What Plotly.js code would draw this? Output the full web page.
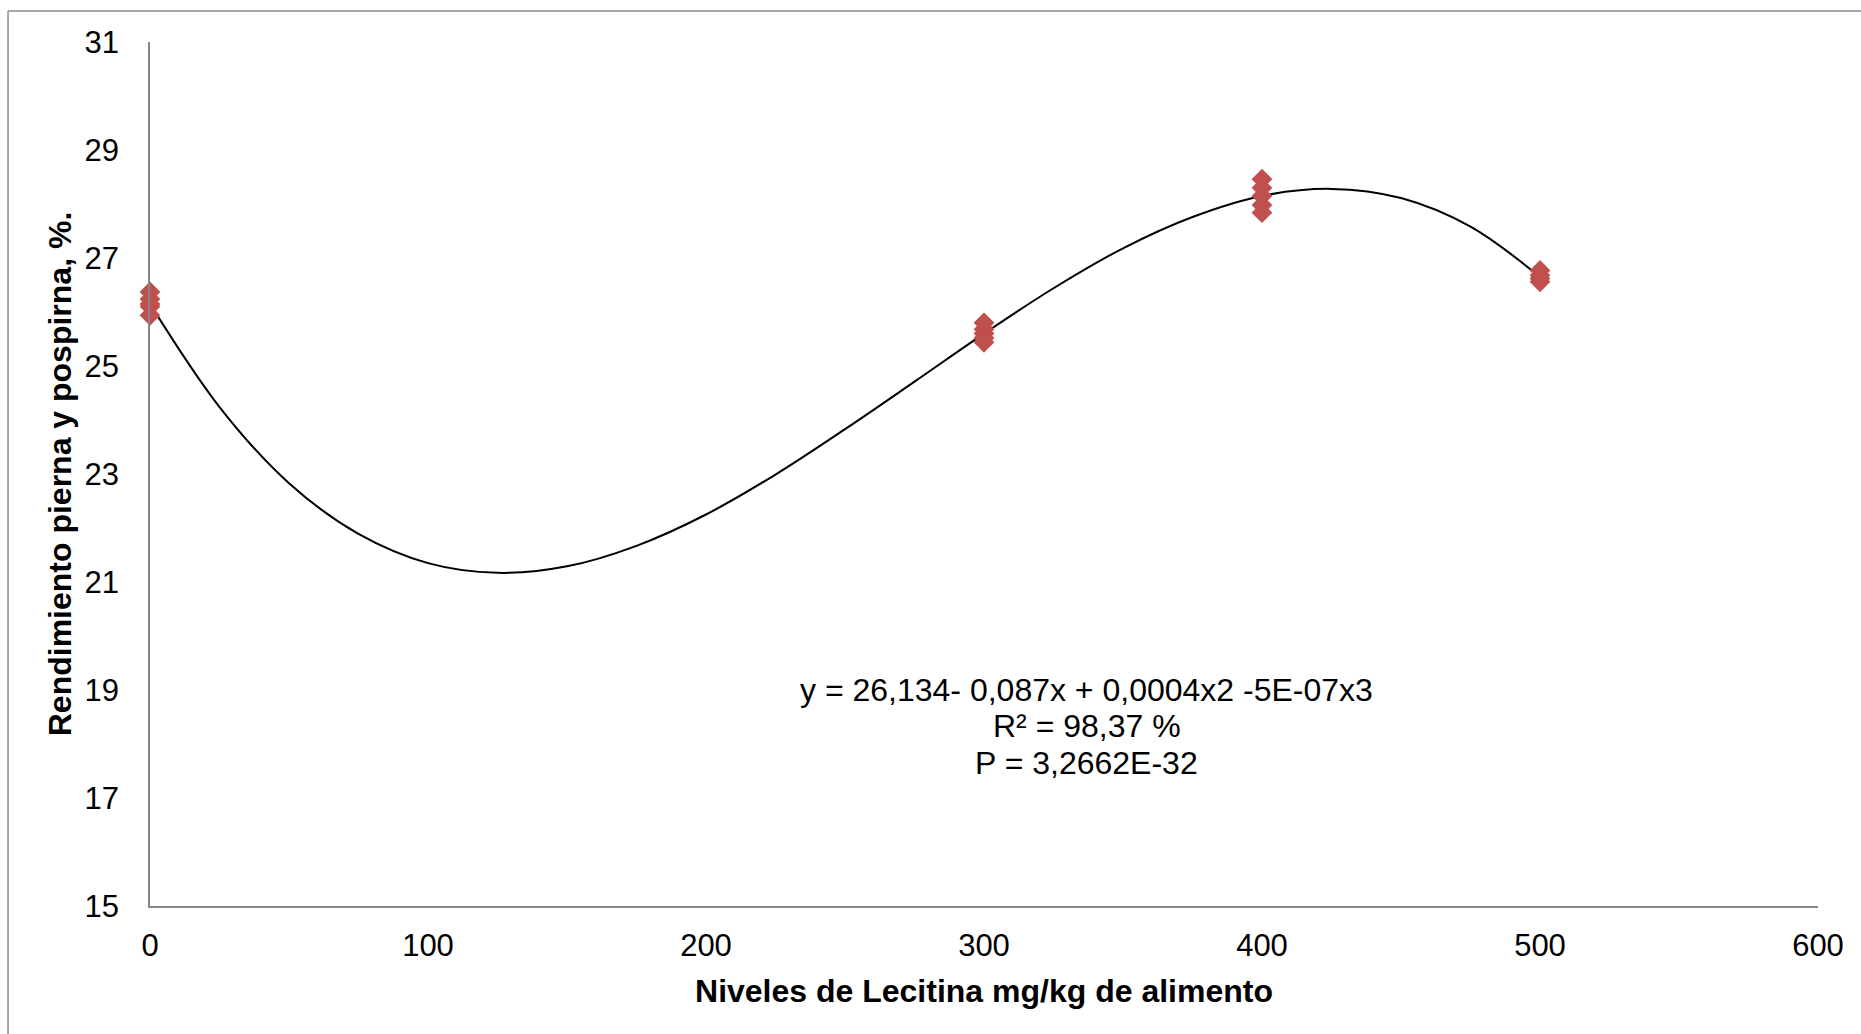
<!DOCTYPE html>
<html>
<head>
<meta charset="utf-8">
<script src="https://cdn.plot.ly/plotly-3.0.1.min.js"></script>
<style>
  html, body { margin: 0; padding: 0; background: #ffffff; }
  #chart { width: 1861px; height: 1034px; }
</style>
</head>
<body>
<div id="chart"></div>
<script>
// Lecithin level (mg/kg feed) for each observation
const lecitina = [0, 0, 0, 0, 0,
                  300, 300, 300, 300, 300,
                  400, 400, 400, 400, 400,
                  500, 500, 500, 500];
// Leg and thigh yield (%) for each observation
const rendimiento = [26.37, 26.24, 26.15, 26.10, 25.94,
                     25.80, 25.68, 25.60, 25.52, 25.44,
                     28.46, 28.30, 28.15, 27.98, 27.84,
                     26.77, 26.68, 26.62, 26.56];

// Polynomial (order 3) trend line, sampled along the x axis
const trendX = [0, 25, 50, 75, 100, 125, 150, 175, 200, 225, 250,
                275, 300, 325, 350, 375, 400, 425, 450, 475, 500];
const trendY = [26.15, 24.24, 22.83, 21.89, 21.35, 21.17, 21.29, 21.67, 22.25, 22.99, 23.83,
                24.71, 25.60, 26.44, 27.18, 27.76, 28.15, 28.28, 28.11, 27.58, 26.65];

// Axis ticks
const xTicks = [0, 100, 200, 300, 400, 500, 600];
const yTicks = [15, 17, 19, 21, 23, 25, 27, 29, 31];

// Trend line equation text
const eqLines = ["y = 26,134- 0,087x + 0,0004x2 -5E-07x3",
                 "R\u00B2 = 98,37 %",
                 "P = 3,2662E-32"];
const eqY = [19.0, 18.33, 17.65];

const FONT = "Liberation Sans, Arial, sans-serif";
const AXIS_GREY = "#868686";

const traces = [
  {
    x: trendX, y: trendY,
    type: "scatter", mode: "lines",
    line: { color: "#000000", width: 2, shape: "spline", smoothing: 1 },
    hoverinfo: "skip",
    showlegend: false
  },
  {
    x: lecitina, y: rendimiento,
    type: "scatter", mode: "markers",
    marker: { symbol: "diamond", size: 16, color: "#C0504D",
              line: { color: "#C0504D", width: 0 } },
    cliponaxis: false,
    showlegend: false
  }
];

const annotations = eqLines.map((t, i) => ({
  x: 337, y: eqY[i], xref: "x", yref: "y",
  text: t, showarrow: false,
  xanchor: "center", yanchor: "middle",
  font: { family: FONT, size: 32, color: "#000000" }
}));

const layout = {
  width: 1861, height: 1034,
  margin: { l: 150, r: 43, t: 42, b: 128 },
  paper_bgcolor: "rgba(0,0,0,0)",
  plot_bgcolor: "rgba(0,0,0,0)",
  font: { family: FONT, size: 31, color: "#000000" },
  xaxis: {
    range: [0, 600],
    tickvals: xTicks,
    ticktext: xTicks.map(String),
    showgrid: false, zeroline: false,
    showline: true, linecolor: AXIS_GREY, linewidth: 1.5,
    ticks: "",
    ticklabelstandoff: 11,
    tickfont: { family: FONT, size: 31, color: "#000000" },
    title: { text: "<b>Niveles de Lecitina mg/kg de alimento</b>",
             font: { family: FONT, size: 32, color: "#000000" },
             standoff: 18 },
    automargin: false
  },
  yaxis: {
    range: [15, 31],
    tickvals: yTicks,
    ticktext: yTicks.map(String),
    showgrid: false, zeroline: false,
    showline: true, linecolor: AXIS_GREY, linewidth: 1.5,
    ticks: "",
    ticklabelstandoff: 23,
    tickfont: { family: FONT, size: 31, color: "#000000" },
    title: { text: "<b>Rendimiento pierna y pospirna, %.</b>",
             font: { family: FONT, size: 32, color: "#000000" },
             standoff: 3 },
    automargin: false
  },
  annotations: annotations,
  shapes: [
    { type: "line", xref: "paper", yref: "paper",
      x0: -0.0851, x1: -0.0851, y0: -0.2, y1: 1.0359,
      line: { color: "#8a8a8a", width: 1.5 } },
    { type: "line", xref: "paper", yref: "paper",
      x0: -0.0851, x1: 1.1, y0: 1.0359, y1: 1.0359,
      line: { color: "#8a8a8a", width: 1.5 } }
  ]
};

Plotly.newPlot("chart", traces, layout, { displayModeBar: false, responsive: false });
</script>
</body>
</html>
